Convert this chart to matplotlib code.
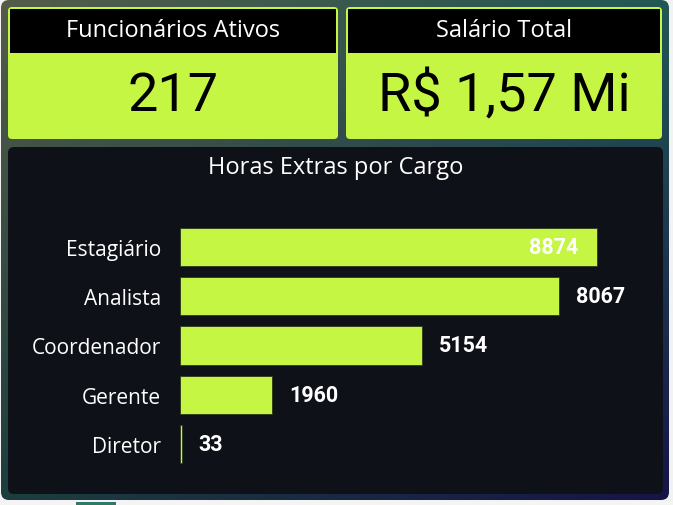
import numpy as np
import matplotlib
matplotlib.use("Agg")
import matplotlib.pyplot as plt
from matplotlib.patches import FancyBboxPatch, Rectangle

# data
cargos = ["Estagiário", "Analista", "Coordenador", "Gerente", "Diretor"]
horas_extras = [8874, 8067, 5154, 1960, 33]
kpi_titles = ["Funcionários Ativos", "Salário Total"]
kpi_values = ["217", "R$ 1,57 Mi"]

LIME = "#c5f644"
PANEL = "#0e1117"
W, H = 673, 506

fig = plt.figure(figsize=(W / 100, H / 100), dpi=100)
fig.patch.set_facecolor("#f2f2f2")

# background axes in pixel coords (origin top-left)
bg = fig.add_axes([0, 0, 1, 1])
bg.set_xlim(0, W)
bg.set_ylim(H, 0)
bg.axis("off")

# gradient background of the dashboard
tl = np.array([84, 92, 72]) / 255
tr = np.array([34, 88, 84]) / 255
bl = np.array([28, 62, 62]) / 255
br = np.array([22, 20, 72]) / 255
u = np.linspace(0, 1, 200)[None, :, None]
v = np.linspace(0, 1, 150)[:, None, None]
grad = (1 - v) * ((1 - u) * tl + u * tr) + v * ((1 - u) * bl + u * br)
img = bg.imshow(grad, extent=(1, 669, 501, 1), aspect="auto", zorder=0)
clip = FancyBboxPatch((1, 1), 668, 500, boxstyle="round,pad=0,rounding_size=8",
                      transform=bg.transData, facecolor="none", edgecolor="none")
bg.add_patch(clip)
img.set_clip_path(clip)
bg.add_patch(Rectangle((0, 502), W, 4, facecolor="#f4f4f4", edgecolor="none", zorder=1))
bg.add_patch(Rectangle((76, 503), 40, 3, facecolor="#2f7a66", edgecolor="none", zorder=2))

# KPI cards
cards = [(8, 338), (346, 662)]
for (x0, x1), title, value in zip(cards, kpi_titles, kpi_values):
    bg.add_patch(FancyBboxPatch((x0, 8), x1 - x0, 132,
                                boxstyle="round,pad=0,rounding_size=4",
                                facecolor=LIME, edgecolor="none", zorder=2))
    bg.add_patch(Rectangle((x0 + 2, 10), x1 - x0 - 4, 44, facecolor="black",
                           edgecolor="none", zorder=3))
    cx = (x0 + x1) / 2
    bg.text(cx, 31, title, color="white", fontsize=17, family="Open Sans",
            ha="center", va="center", zorder=4)
    bg.text(cx, 96, value, color="black", fontsize=39, family="Roboto",
            ha="center", va="center", zorder=4)

# chart panel
bg.add_patch(FancyBboxPatch((8, 148), 655, 347,
                            boxstyle="round,pad=0,rounding_size=6",
                            facecolor=PANEL, edgecolor="none", zorder=2))
bg.text(336, 168, "Horas Extras por Cargo", color="white", fontsize=17,
        family="Open Sans", ha="center", va="center", zorder=4)

# bar chart axes: x from 180 to 650 px, rows centered 248..445 px
ax_l, ax_r = 180, 650
ax_t, ax_b = 223.5, 469.5
ax = fig.add_axes([ax_l / W, 1 - ax_b / H, (ax_r - ax_l) / W, (ax_b - ax_t) / H])
ax.set_facecolor("none")
y = np.arange(len(cargos))
ax.barh(y, horas_extras, height=0.78, color=LIME, edgecolor="#2a3a1a", linewidth=0.6)
ax.set_xlim(0, 10000)
ax.set_ylim(len(cargos) - 0.5, -0.5)
ax.set_yticks(y)
ax.set_yticklabels(cargos, color="white", fontsize=15, family="Open Sans")
ax.tick_params(axis="y", length=0, pad=13.5)
ax.set_xticks([])
for s in ax.spines.values():
    s.set_visible(False)

xmax = max(horas_extras)
for yi, val in zip(y, horas_extras):
    if val == xmax:
        ax.text(val - 400, yi, f"{val}", color="white", fontsize=15.5, weight="bold",
                family="Roboto", ha="right", va="center")
    else:
        ax.text(val + 360, yi, f"{val}", color="white", fontsize=15.5, weight="bold",
                family="Roboto", ha="left", va="center")

fig.savefig("out.png", dpi=100, facecolor=fig.get_facecolor())
